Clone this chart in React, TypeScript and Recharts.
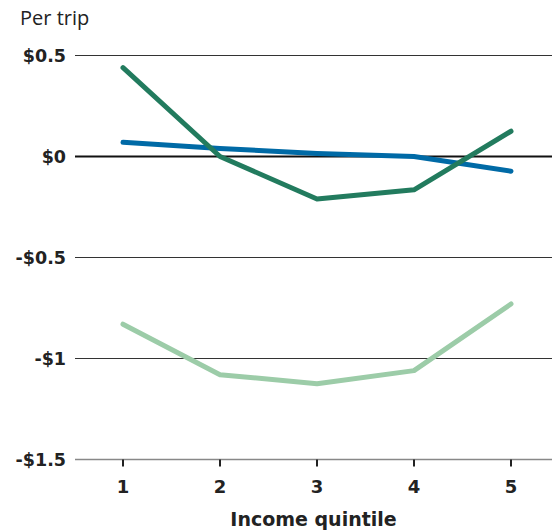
import { LineChart, Line, XAxis, YAxis, CartesianGrid, ReferenceLine } from 'recharts'

const quintiles = [1, 2, 3, 4, 5]
const darkGreenValues = [0.44, 0, -0.21, -0.165, 0.125]
const blueValues = [0.07, 0.04, 0.015, 0, -0.073]
const lightGreenValues = [-0.83, -1.08, -1.125, -1.06, -0.73]
const yTicks = [0.5, 0, -0.5, -1, -1.5]

const data = quintiles.map((q, i) => ({
  quintile: q,
  darkGreen: darkGreenValues[i],
  blue: blueValues[i],
  lightGreen: lightGreenValues[i],
}))

const FONT = '"DejaVu Sans", "Noto Sans", Arial, sans-serif'

const formatDollar = (v: number) => {
  if (v === 0) return '$0'
  return v < 0 ? `-$${Math.abs(v)}` : `$${v}`
}

export default function App() {
  return (
    <div style={{ position: 'absolute', left: 0, top: 0, width: 558, height: 530, background: '#fff' }}>
      <div
        style={{
          position: 'absolute',
          left: 20,
          top: 4,
          fontFamily: '"Open Sans", "Noto Sans", sans-serif',
          fontSize: 20,
          color: '#222',
        }}
      >
        Per trip
      </div>
      <LineChart
        width={558}
        height={530}
        data={data}
        margin={{ top: 55.5, right: 6, bottom: 0, left: 0 }}
      >
        <CartesianGrid horizontal vertical={false} stroke="#333" strokeWidth={1} />
        <XAxis
          dataKey="quintile"
          type="number"
          domain={[1, 5]}
          ticks={quintiles}
          padding={{ left: 48, right: 41 }}
          height={70.5}
          axisLine={{ stroke: '#888', strokeWidth: 1.5 }}
          tickLine={{ stroke: '#222', strokeWidth: 2 }}
          tickSize={7}
          tickMargin={14}
          tick={{ fontFamily: FONT, fontSize: 18, fontWeight: 700, fill: '#222' }}
          label={{
            value: 'Income quintile',
            position: 'insideBottom',
            offset: 4,
            style: { fontFamily: FONT, fontSize: 19, fontWeight: 700, fill: '#222' },
          }}
        />
        <YAxis
          type="number"
          domain={[-1.5, 0.5]}
          ticks={yTicks}
          width={75}
          axisLine={false}
          tickLine={false}
          tickSize={0}
          tickMargin={9}
          tickFormatter={formatDollar}
          tick={{ fontFamily: FONT, fontSize: 17.5, fontWeight: 700, fill: '#222' }}
        />
        <ReferenceLine y={0} stroke="#111" strokeWidth={2} />
        <Line
          dataKey="lightGreen"
          stroke="#9ccca8"
          strokeWidth={5}
          dot={false}
          strokeLinecap="round"
          strokeLinejoin="round"
          isAnimationActive={false}
        />
        <Line
          dataKey="blue"
          stroke="#006aa6"
          strokeWidth={5}
          dot={false}
          strokeLinecap="round"
          strokeLinejoin="round"
          isAnimationActive={false}
        />
        <Line
          dataKey="darkGreen"
          stroke="#227b5e"
          strokeWidth={5}
          dot={false}
          strokeLinecap="round"
          strokeLinejoin="round"
          isAnimationActive={false}
        />
      </LineChart>
    </div>
  )
}
